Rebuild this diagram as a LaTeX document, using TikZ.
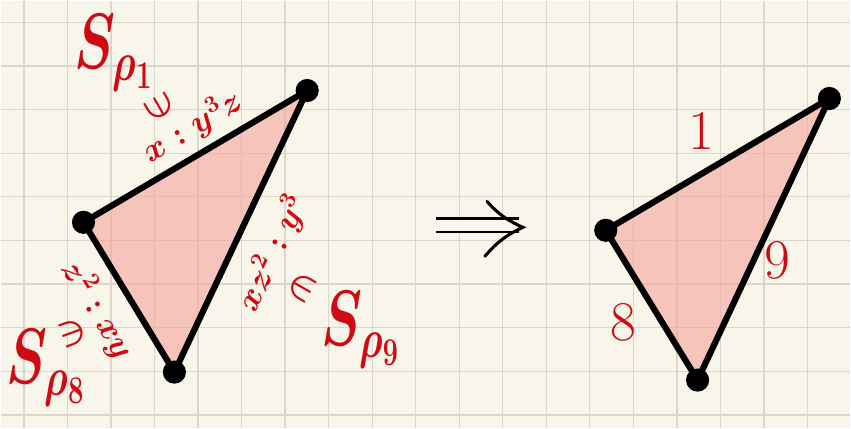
\documentclass[tikz,border=0pt]{standalone}
\usepackage{fix-cm}
\usepackage{amsmath,amssymb}
\usepackage{graphicx}
\usetikzlibrary{arrows.meta}
\definecolor{paper}{HTML}{F8F6EA}
\definecolor{gridgray}{HTML}{D9D7CB}
\definecolor{inkred}{HTML}{D00A12}
\definecolor{facepink}{HTML}{F5A49D}
\newcommand{\Sray}[1]{\scalebox{.7}[1]{$S_{\rho_{#1}}$}}
\tikzset{
  vertex/.style={circle,fill=black,inner sep=0pt,minimum size=.58cm},
  edgeline/.style={line width=4.4pt,line cap=round},
  face/.style={fill=facepink,fill opacity=.6},
  gridline/.style={draw=gridgray,line width=.9pt},
  monomial/.style={text=inkred,font=\fontsize{24}{28}\selectfont\boldmath,inner sep=1pt},
  member/.style={text=inkred,font=\fontsize{26}{30}\selectfont\boldmath,inner sep=0pt},
  setname/.style={text=inkred,font=\fontsize{56}{60}\selectfont\boldmath,inner sep=0pt},
  rayno/.style={text=inkred,font=\fontsize{40}{44}\selectfont,inner sep=0pt},
  shaft/.style={double=paper,double distance=7.5pt,line width=2pt},
  headline/.style={line width=2.2pt,line cap=round},
}

\begin{document}
\begin{tikzpicture}[x=0.025cm,y=-0.025cm]
	% squared paper
	\fill[paper] (0,0) rectangle (851,428);
	\foreach \i in {0,...,18} \draw[gridline] ({23.3+43.6*\i},0) -- ({23.3+43.6*\i},428);
	\foreach \j in {0,...,9} \draw[gridline] (0,{21.7+43.7*\j}) -- (851,{21.7+43.7*\j});
	\useasboundingbox (0,0) rectangle (851,428);

	% left triangle with the monomials
	\coordinate (l1) at (83,222);
	\coordinate (l2) at (307,90);
	\coordinate (l3) at (174,372);
	\fill[face] (l1) -- (l2) -- (l3) -- cycle;
	\draw[edgeline] (l1) -- node[sloped,above=4pt,pos=.55,monomial] (m1) {$x:y^3z$} (l2);
	\draw[edgeline] (l3) -- node[sloped,below=12pt,pos=.48,monomial] (m9) {$xz^2:y^3$} (l2);
	\draw[edgeline] (l1) -- node[sloped,below=8pt,pos=.47,monomial] (m8) {$z^2:xy$} (l3);
	\node[vertex] (la) at (l1) {};
	\node[vertex] (lb) at (l2) {};
	\node[vertex] (lc) at (l3) {};

	\node[setname] (s1) at (113,52) {\Sray{1}};
	\node[member,rotate=-60] (e1) at (159,107) {$\ni$};
	\node[setname] (s9) at (360,330) {\Sray{9}};
	\node[member,rotate=-30] (e9) at (302,287) {$\in$};
	\node[setname] (s8) at (45,368) {\Sray{8}};
	\node[member,rotate=20] (e8) at (72,333) {$\ni$};

	% arrow
	\coordinate (ar1) at (436,225);
	\coordinate (ar2) at (519,225);
	\coordinate (tip) at (523,227);
	\coordinate (hd1) at (487,201);
	\coordinate (hd2) at (485,256);
	\draw[shaft] (ar1) -- (ar2);
	\draw[headline] (hd1) to[bend right=12] (tip) to[bend right=12] (hd2);

	% right triangle with the rays
	\coordinate (r1) at (606,230);
	\coordinate (r2) at (830,98);
	\coordinate (r3) at (698,380);
	\fill[face] (r1) -- (r2) -- (r3) -- cycle;
	\draw[edgeline] (r1) -- (r2) -- (r3) -- cycle;
	\node[vertex] (ra) at (r1) {};
	\node[vertex] (rb) at (r2) {};
	\node[vertex] (rc) at (r3) {};
	\node[rayno] (n1) at (702,130) {1};
	\node[rayno] (n9) at (778,260) {9};
	\node[rayno] (n8) at (624,322) {8};
\end{tikzpicture}
\end{document}
